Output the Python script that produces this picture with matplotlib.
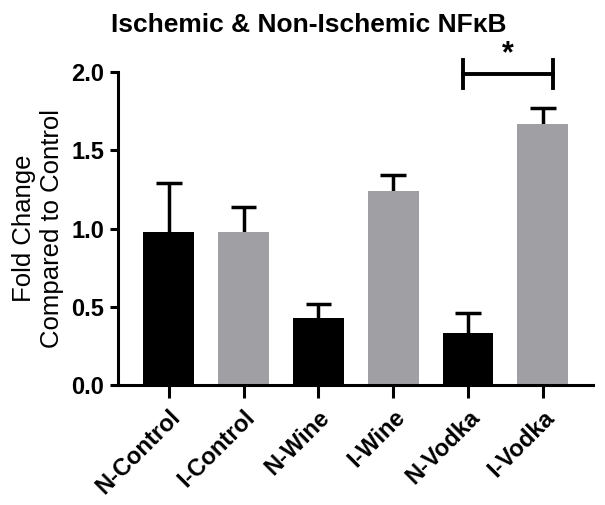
import matplotlib
matplotlib.use('Agg')
import matplotlib.pyplot as plt
import numpy as np

plt.rcParams['font.family'] = ['Liberation Sans', 'DejaVu Sans']

# Data
groups = ['N-Control', 'I-Control', 'N-Wine', 'I-Wine', 'N-Vodka', 'I-Vodka']
means = [0.98, 0.98, 0.43, 1.24, 0.33, 1.67]
errors = [0.31, 0.16, 0.09, 0.10, 0.13, 0.10]
colors = ['black', '#a0a0a4', 'black', '#a0a0a4', 'black', '#a0a0a4']

x = np.arange(len(groups))

fig = plt.figure(figsize=(6.05, 5.05), dpi=100)
ax = fig.add_axes([0.195, 0.238, 0.785, 0.619])

ax.bar(x, means, width=0.68, color=colors, zorder=2)
# upward-only error bars
tops = np.array(means) + np.array(errors)
ax.vlines(x, means, tops, color='black', lw=2.5, zorder=1)
ax.hlines(tops, x - 0.17, x + 0.17, color='black', lw=2.5, zorder=1)

ax.set_xlim(-0.68, 5.67)
ax.set_ylim(0, 2.0)
ax.set_yticks([0.0, 0.5, 1.0, 1.5, 2.0])
ax.set_yticklabels(['0.0', '0.5', '1.0', '1.5', '2.0'], fontweight='bold', fontsize=17)
ax.set_xticks(x)
ax.set_xticklabels(groups, rotation=45, ha='right', rotation_mode='anchor',
                   fontweight='bold', fontsize=17)

for side in ['top', 'right']:
    ax.spines[side].set_visible(False)
for side in ['left', 'bottom']:
    ax.spines[side].set_linewidth(2.2)
ax.tick_params(axis='y', width=2.2, length=6, direction='out', pad=4)
ax.tick_params(axis='x', width=2.2, length=9, direction='out', pad=6)

ax.set_ylabel('Fold Change\nCompared to Control', fontsize=18.5, labelpad=5)

# significance bracket between N-Vodka and I-Vodka
y_br = 1.99
ax.plot([3.93, 5.13], [y_br, y_br], color='black', lw=2.8, clip_on=False)
ax.plot([3.93, 3.93], [y_br - 0.09, y_br + 0.09], color='black', lw=2.8, clip_on=False)
ax.plot([5.13, 5.13], [y_br - 0.09, y_br + 0.09], color='black', lw=2.8, clip_on=False)
ax.text(4.53, y_br + 0.03, '*', ha='center', va='bottom', fontsize=22,
        fontweight='bold')

fig.suptitle('Ischemic & Non-Ischemic NF\u03baB', x=0.51, y=0.975,
             fontsize=19, fontweight='bold')

fig.savefig('out.png', dpi=100)
